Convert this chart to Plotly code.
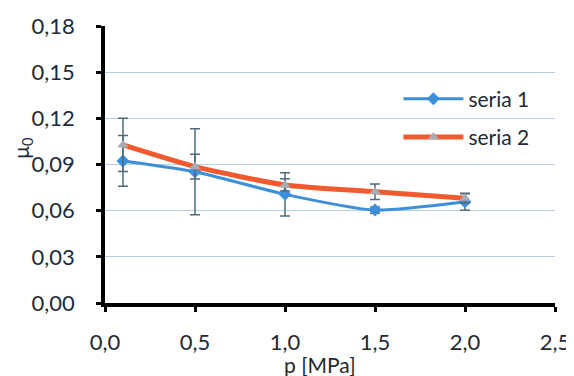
import plotly.graph_objects as go

p = [0.1, 0.5, 1.0, 1.5, 2.0]
seria1 = [0.0923, 0.0853, 0.0706, 0.0604, 0.0658]
seria1_err = [0.0165, 0.028, 0.014, 0.002, 0.0055]
seria2 = [0.1027, 0.0886, 0.0767, 0.0723, 0.0680]
seria2_err = [0.0173, 0.008, 0.004, 0.005, 0.003]
x_ticks = [0.0, 0.5, 1.0, 1.5, 2.0, 2.5]
x_labels = ["0,0", "0,5", "1,0", "1,5", "2,0", "2,5"]
y_ticks = [0.00, 0.03, 0.06, 0.09, 0.12, 0.15, 0.18]
y_labels = ["0,00", "0,03", "0,06", "0,09", "0,12", "0,15", "0,18"]

FONT = "Lato, Open Sans, sans-serif"
TXT = "#1f2a36"
ERR_COLOR = "#4f6b78"

fig = go.Figure()
fig.add_trace(go.Scatter(
    x=p, y=seria1, name="seria 1", mode="lines+markers", legendgroup="a",
    line=dict(color="#3d8fd9", width=3, shape="spline", smoothing=0.6),
    marker=dict(symbol="diamond", size=10, color="#3d8fd9"),
    error_y=dict(type="data", array=seria1_err, color=ERR_COLOR, thickness=1.5, width=5),
))
fig.add_trace(go.Scatter(
    x=p, y=seria2, name="seria 2", mode="lines+markers", legendgroup="b",
    line=dict(color="#f15a2e", width=5, shape="spline", smoothing=0.6),
    marker=dict(symbol="triangle-up", size=10, color="#a9acb3"),
    error_y=dict(type="data", array=seria2_err, color=ERR_COLOR, thickness=1.5, width=5),
))

fig.update_layout(
    width=566, height=368,
    margin=dict(l=97, r=19, t=18, b=73),
    paper_bgcolor="white", plot_bgcolor="white",
    font=dict(family=FONT, size=22, color=TXT),
    legend=dict(x=0.652, y=0.81, xanchor="left", yanchor="top",
                bgcolor="rgba(0,0,0,0)", font=dict(size=21),
                traceorder="grouped", tracegroupgap=8, itemwidth=60),
    showlegend=True,
    annotations=[
        dict(text="μ<sub>0</sub>", xref="paper", yref="paper",
             x=-0.185, y=0.56, xanchor="center", yanchor="middle",
             textangle=-90, showarrow=False, font=dict(size=21, color=TXT)),
        dict(text="p [MPa]", xref="paper", yref="paper",
             x=0.478, y=-0.222, xanchor="center", yanchor="middle",
             showarrow=False, font=dict(size=21, color=TXT)),
    ],
)
fig.update_xaxes(
    range=[0, 2.5], tickvals=x_ticks, ticktext=x_labels, automargin=False,
    showline=True, linecolor="black", linewidth=3.5,
    ticks="outside", ticklen=5, tickwidth=3, tickcolor="black",
    ticklabelstandoff=12,
    showgrid=False, zeroline=False,
)
fig.update_yaxes(
    range=[0, 0.18], tickvals=y_ticks, ticktext=y_labels, automargin=False,
    showline=True, linecolor="black", linewidth=3.5,
    ticks="outside", ticklen=5, tickwidth=3, tickcolor="black",
    ticklabelstandoff=17,
    showgrid=True, gridcolor="#b5d0e6", gridwidth=1, zeroline=False,
)

fig.write_html("out.html")
